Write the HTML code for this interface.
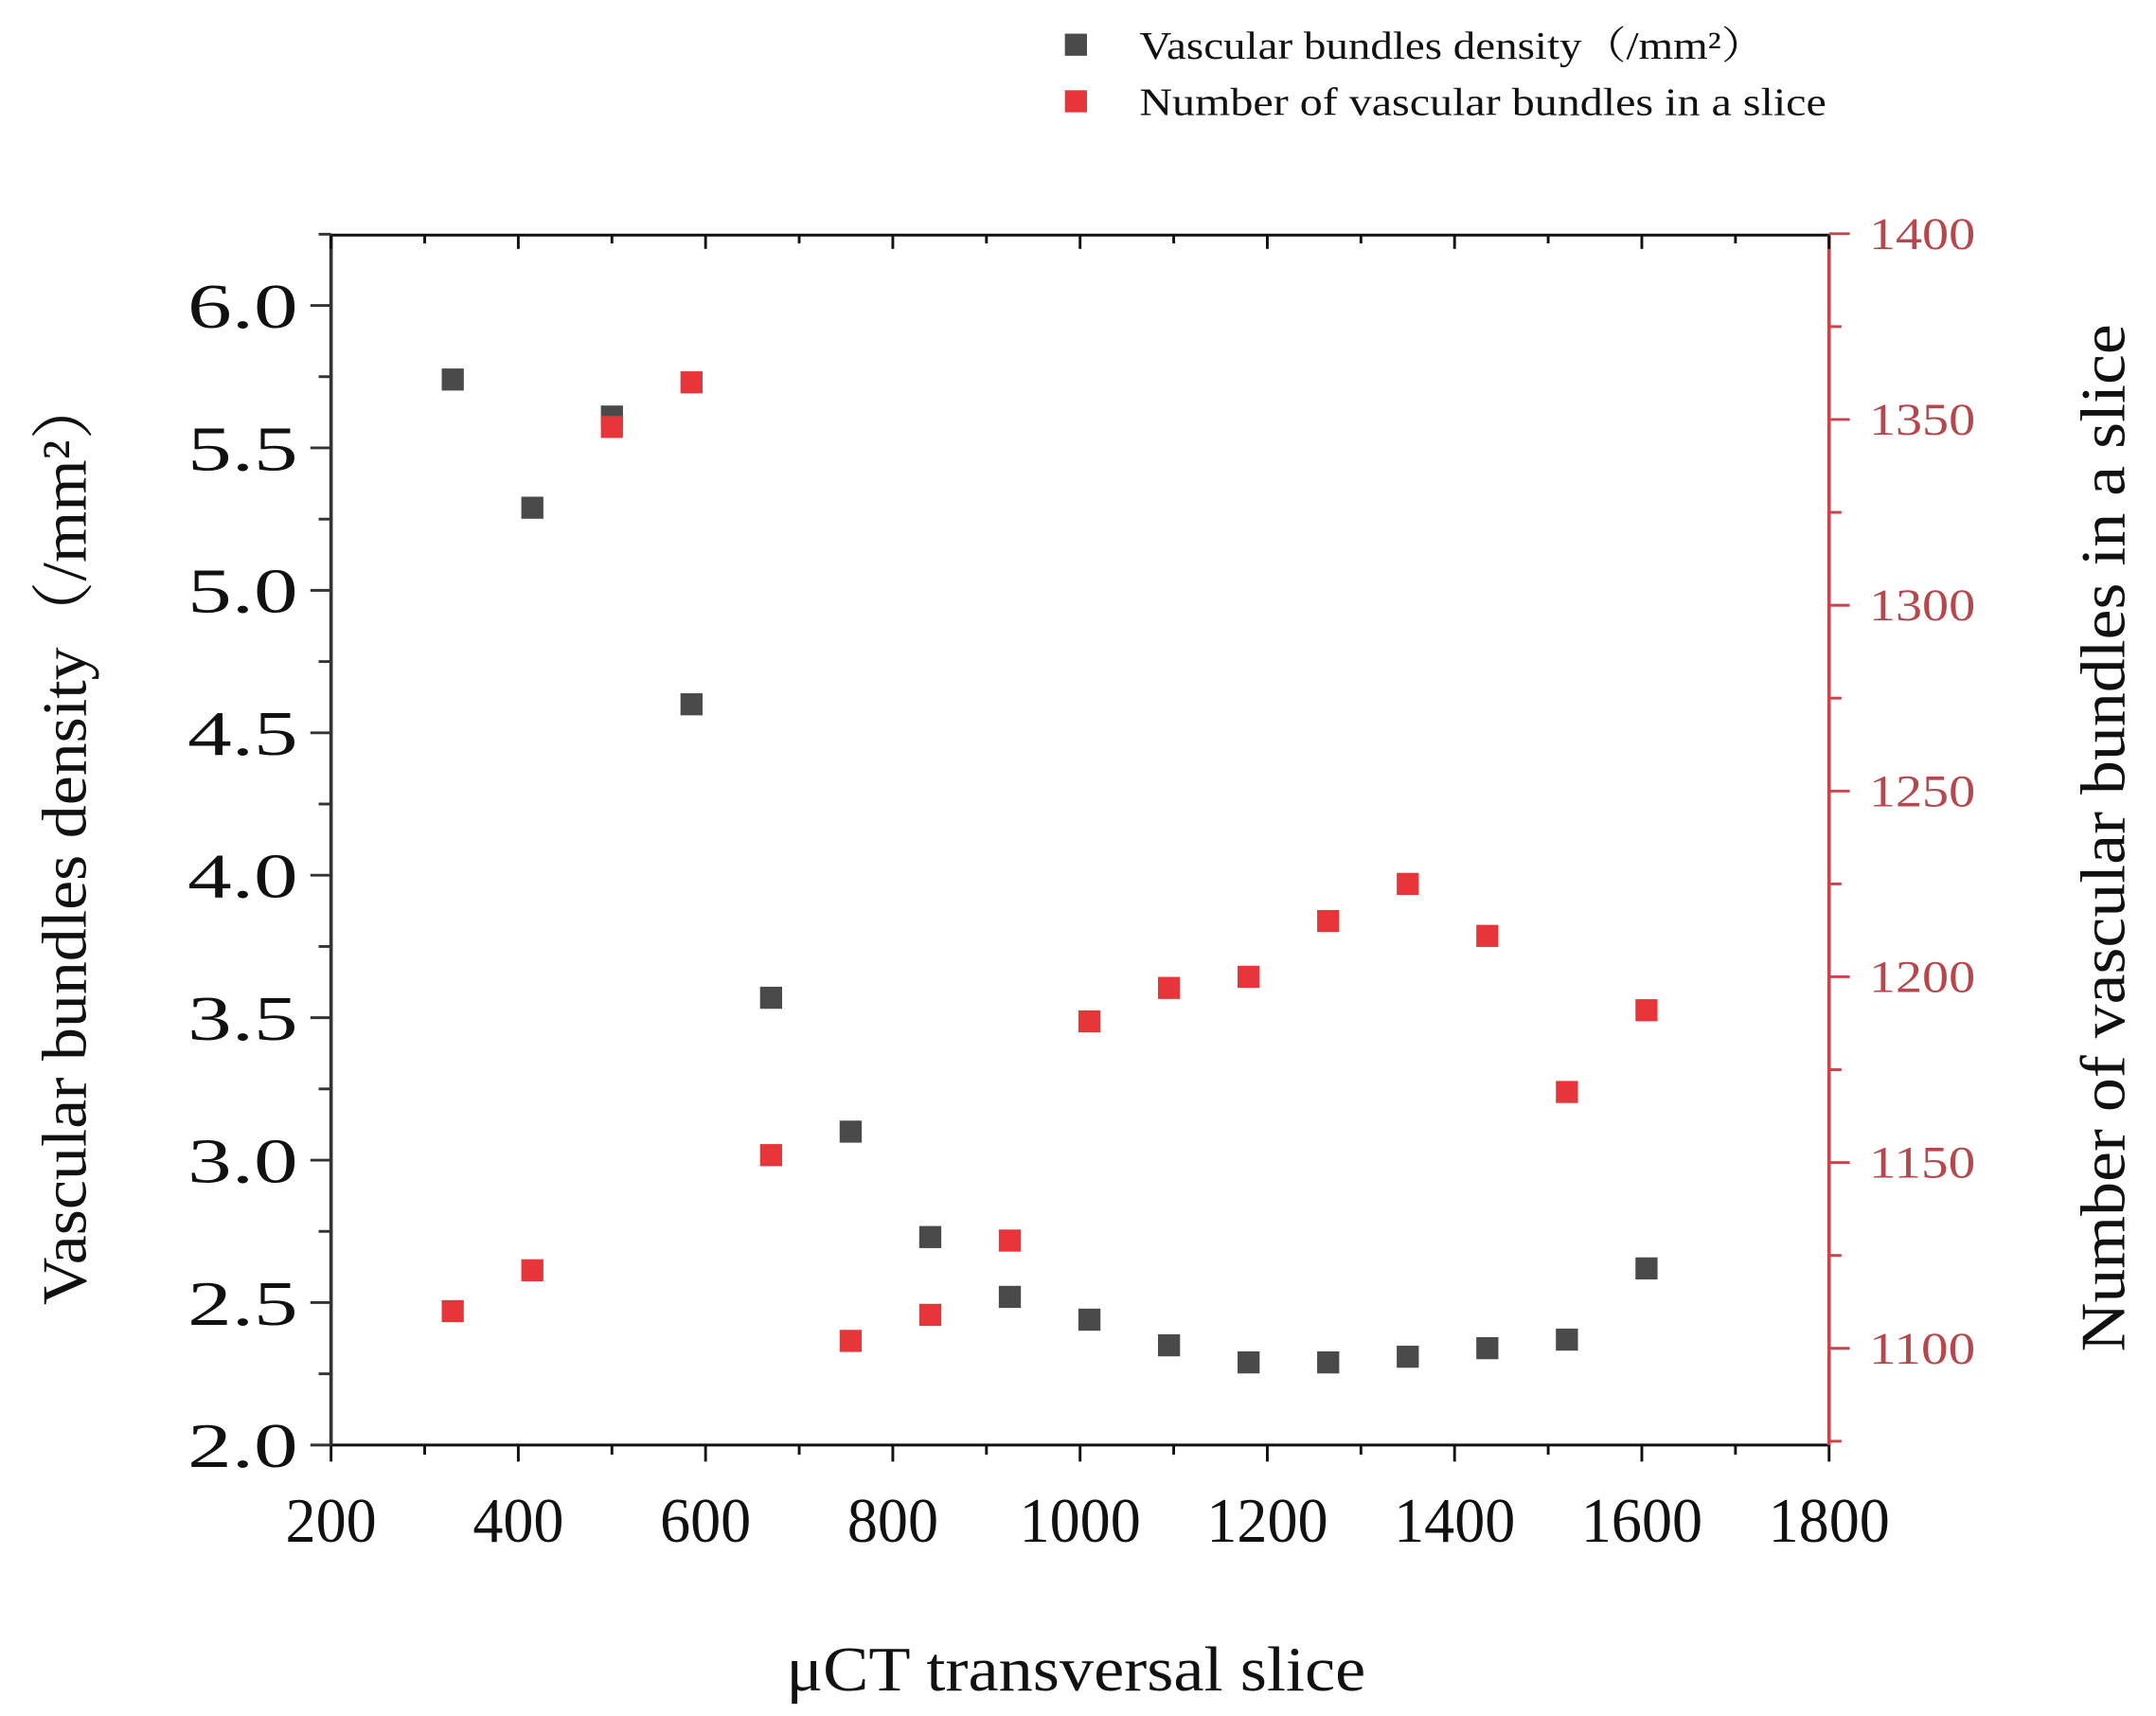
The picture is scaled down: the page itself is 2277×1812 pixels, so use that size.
<!DOCTYPE html>
<html><head><meta charset="utf-8"><style>
html,body{margin:0;padding:0;background:#fff;}
svg{display:block;}
text{font-family:"Liberation Serif","Noto Serif CJK SC",serif;}
</style></head><body>
<svg id="chart" width="2277" height="1812" viewBox="0 0 1563 1243" xmlns="http://www.w3.org/2000/svg">
<g id="axes"></g>
<g id="marks"></g>
<g>
<rect x="772" y="24" width="16" height="16" fill="#4a4a4a"/>
<text x="826" y="42" font-size="28" textLength="454" lengthAdjust="spacingAndGlyphs" fill="#111">Vascular bundles density（/mm²）</text>
<rect x="772" y="65" width="16" height="16" fill="#e8353a"/>
<text x="826" y="83" font-size="28" textLength="498" lengthAdjust="spacingAndGlyphs" fill="#111">Number of vascular bundles in a slice</text>
</g>
<text x="780" y="1225" font-size="46" text-anchor="middle" textLength="420" lengthAdjust="spacingAndGlyphs" fill="#111">μCT transversal slice</text>
<text transform="translate(62,608) rotate(-90)" font-size="46" text-anchor="middle" textLength="675" lengthAdjust="spacingAndGlyphs" fill="#111">Vascular bundles density（/mm²）</text>
<text transform="translate(1540,607) rotate(-90)" font-size="46" text-anchor="middle" textLength="745" lengthAdjust="spacingAndGlyphs" fill="#111">Number of vascular bundles in a slice</text>
</svg>
<script>
const slices = [330,415,500,585,670,755,840,925,1010,1095,1180,1265,1350,1435,1520,1605];
const density = [5.74,5.29,5.61,4.60,3.57,3.10,2.73,2.52,2.44,2.35,2.29,2.29,2.31,2.34,2.37,2.62];
const counts = [1110,1121,1348,1360,1152,1102,1109,1129,1188,1197,1200,1215,1225,1211,1169,1191];
const xTicks = [200,400,600,800,1000,1200,1400,1600,1800];
const leftTicks = [2.0,2.5,3.0,3.5,4.0,4.5,5.0,5.5,6.0];
const rightTicks = [1100,1150,1200,1250,1300,1350,1400];

const L=240,R=1326,T=170,B=1047;
const xS = v => L + (v-200)*(R-L)/1600;
const yL = v => B - (v-2.0)*206.5;
const yR = v => 169 + (1400-v)*2.693;
const NS="http://www.w3.org/2000/svg";
const axes=document.getElementById('axes'), marks=document.getElementById('marks');
function mk(tag,attrs,parent){const e=document.createElementNS(NS,tag);for(const k in attrs)e.setAttribute(k,attrs[k]);parent.appendChild(e);return e;}

let e;
e=mk('line',{x1:L,y1:T,x2:R,y2:T,stroke:'#111','stroke-width':2},axes);


e=mk('line',{x1:L,y1:B,x2:R,y2:B,stroke:'#111','stroke-width':2},axes);


e=mk('line',{x1:L,y1:T,x2:L,y2:B,stroke:'#333','stroke-width':2.5},axes);


e=mk('line',{x1:R,y1:T,x2:R,y2:B,stroke:'#c8444c','stroke-width':2.5},axes);



for(let v=200; v<=1800; v+=100){
  const x=xS(v), major=(v%200===0);
  mk('line',{x1:x,y1:B,x2:x,y2:B+(major?12:7),stroke:'#111','stroke-width':2},axes);
  mk('line',{x1:x,y1:T,x2:x,y2:T+(major?10:6),stroke:'#111','stroke-width':2},axes);
}
xTicks.forEach(v=>{
  const s=String(v);
  const t=mk('text',{x:xS(v),y:B+70,'font-size':46,'text-anchor':'middle',fill:'#111',textLength:s.length*22,lengthAdjust:'spacingAndGlyphs'},axes);
  t.textContent=s;
  
  
});
for(let v=2.0; v<=6.2501; v+=0.25){
  const y=yL(v), major=Math.abs(v*2-Math.round(v*2))<1e-6;
  mk('line',{x1:L,y1:y,x2:L-(major?15:9),y2:y,stroke:'#333','stroke-width':2},axes);
}
leftTicks.forEach(v=>{
  const t=mk('text',{x:L-24,y:yL(v)+16,'font-size':46,'text-anchor':'end',fill:'#111',textLength:80,lengthAdjust:'spacingAndGlyphs'},axes);
  t.textContent=v.toFixed(1);
  
  
});
for(let v=1400; v>=1075; v-=25){
  const y=yR(v), major=(v%50===0);
  mk('line',{x1:R,y1:y,x2:R+(major?15:9),y2:y,stroke:'#c8444c','stroke-width':2},axes);
}
rightTicks.forEach(v=>{
  const t=mk('text',{x:R+29,y:yR(v)+11,'font-size':33,fill:'#b5474d',textLength:77,lengthAdjust:'spacingAndGlyphs'},axes);
  t.textContent=v;
  
  
});

const S=16;
slices.forEach((s,i)=>{
  const d=mk('rect',{x:xS(s)-S/2,y:yL(density[i])-S/2,width:S,height:S,fill:'#4a4a4a'},marks);
  
  
});
slices.forEach((s,i)=>{
  const c=mk('rect',{x:xS(s)-S/2,y:yR(counts[i])-S/2,width:S,height:S,fill:'#e8353a'},marks);
  
  
});
</script>
</body></html>
